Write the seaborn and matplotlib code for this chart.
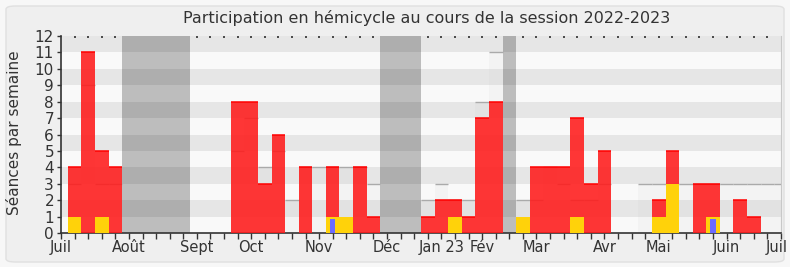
import numpy as np
import pandas as pd
import seaborn as sns
import matplotlib
matplotlib.use("Agg")
import matplotlib.pyplot as plt
import matplotlib.transforms as mtransforms
from matplotlib.patches import FancyBboxPatch

# ---------------- data ----------------
weeks = list(range(1, 54))  # weekly slots along the session axis
presence = [4, 11, 5, 4, 0, 0, 0, 0, 0, 0, 0, 0, 8, 8, 3, 6, 0, 4, 0, 4,
            0, 4, 1, 0, 0, 0, 1, 2, 2, 1, 7, 8, 0, 0, 4, 4, 4, 7, 3, 5,
            0, 0, 0, 2, 5, 0, 3, 3, 0, 2, 1, 0, 0]
interventions = [1, 0, 1, 0, 0, 0, 0, 0, 0, 0, 0, 0, 0, 0, 0, 0, 0, 0, 0, 1,
                 1, 0, 0, 0, 0, 0, 0, 0, 1, 0, 0, 0, 0, 1, 0, 0, 0, 1, 0, 0,
                 0, 0, 0, 1, 3, 0, 0, 1, 0, 0, 0, 0, 0]
questions = [0, 0, 0, 0, 0, 0, 0, 0, 0, 0, 0, 0, 0, 0, 0, 0, 0, 0, 0, 0.85,
             0, 0, 0, 0, 0, 0, 0, 0, 0, 0, 0, 0, 0, 0, 0, 0, 0, 0, 0, 0,
             0, 0, 0, 0, 0, 0, 0, 0.85, 0, 0, 0, 0, 0]
median = [3, 9, 3, 3, 0, 0, 0, 0, 0, 0, 0, 0, 5, 7, 4, 5, 2, 4, 4, 4,
          4, 4, 3, 0, 0, 0, 2, 3, 2, 2, 8, 11, 0, 2, 2, 4, 3, 2, 2, 3,
          0, 0, 3, 3, 3, 3, 3, 3, 3, 3, 3, 3, 3]
vacation_weeks = [5, 6, 7, 8, 9, 24, 25, 26, 33]
month_labels = ["Juil", "Août", "Sept", "Oct", "Nov", "Déc", "Jan 23",
                "Fév", "Mar", "Avr", "Mai", "Juin", "Juil"]
month_pos = [0, 5, 10, 14, 19, 24, 28, 31, 35, 40, 44, 49, 53]
y_ticks = list(range(0, 13))

df = pd.DataFrame({"semaine": weeks, "presence": presence,
                   "interventions": interventions, "questions": questions,
                   "mediane": median})

# ---------------- figure ----------------
sns.set_style("white")
plt.rcParams["font.family"] = ["DejaVu Sans"]
TXT = "#333333"

fig = plt.figure(figsize=(7.9, 2.67), dpi=100)
fig.patch.set_facecolor("#f7f7f7")
fig.patches.append(FancyBboxPatch((6 / 790, 5 / 267), 778 / 790, 256 / 267,
                                  boxstyle="round,pad=0,rounding_size=0.012",
                                  transform=fig.transFigure, facecolor="#efefef",
                                  edgecolor="#e0e0e0", linewidth=1.0, zorder=-10))

ax = fig.add_axes([61 / 790, 1 - 233 / 267, 720 / 790, 197 / 267])
ax.set_zorder(1)
ax.set_facecolor("#f9f9f9")

# vacation bands
for w in vacation_weeks:
    ax.axvspan(w - 0.5, w + 0.5, color="#bdbdbd", lw=0, zorder=1)

# horizontal stripes
for k in range(1, 12, 2):
    ax.axhspan(k, k + 1, color="black", alpha=0.075, lw=0, zorder=1.5)

# median presence bars
sns.barplot(data=df, x="semaine", y="mediane", native_scale=True, orient="x",
            width=1, color="#c9c9c9", alpha=0.12, errorbar=None, ax=ax,
            zorder=2, linewidth=0, saturation=1)
dm = df[df["mediane"] > 0]
ax.hlines(dm["mediane"], dm["semaine"] - 0.5, dm["semaine"] + 0.5,
          color="#aaaaaa", lw=1.0, zorder=3)

# presence bars
sns.barplot(data=df, x="semaine", y="presence", native_scale=True, orient="x",
            width=1, color="#ff1b1b", alpha=0.88, errorbar=None, ax=ax,
            zorder=4, linewidth=0, saturation=1)
dp = df[df["presence"] > 0]
ax.hlines(dp["presence"], dp["semaine"] - 0.5, dp["semaine"] + 0.5,
          color="#ff0000", lw=1.1, zorder=5)

# interventions
sns.barplot(data=df, x="semaine", y="interventions", native_scale=True, orient="x",
            width=1, color="#ffd20a", errorbar=None, ax=ax, zorder=6,
            linewidth=0, saturation=1)

# questions
sns.barplot(data=df, x="semaine", y="questions", native_scale=True, orient="x",
            width=0.4, color="#6b6bff", errorbar=None, ax=ax, zorder=7,
            linewidth=0, saturation=1)

# ---------------- axes ----------------
ax.set_xlim(0, 53)
ax.set_ylim(0, 12)
ax.set_xlabel("")
ax.set_ylabel("")
ax.set_xticks(month_pos)
ax.set_xticklabels(month_labels, fontsize=10.5, color=TXT)
ax.set_xticks(range(1, 53), minor=True)
ax.set_yticks(y_ticks)
ax.set_yticklabels([str(v) for v in y_ticks], fontsize=11, color=TXT)
ax.tick_params(axis="x", which="both", direction="out", length=4, width=1,
               color="#333333", pad=1, bottom=True, top=False)
ax.tick_params(axis="y", which="major", direction="out", length=3, width=1,
               color="#333333", pad=2, left=True)

# keep the final "Juil" inside the picture
last = ax.get_xticklabels()[-1]
last.set_transform(last.get_transform() +
                   mtransforms.ScaledTranslation(-4 / 100, 0, fig.dpi_scale_trans))

# top dotted ticks
ax_top = ax.secondary_xaxis("top")
ax_top.set_xticks(range(1, 53))
ax_top.set_xticklabels([])
ax_top.tick_params(direction="in", length=1.5, width=1.2, color="#333333")
ax_top.spines["top"].set_visible(False)

ax.spines["top"].set_visible(False)
ax.spines["right"].set_color("#c8c8c8")
ax.spines["left"].set_color("#333333")
ax.spines["bottom"].set_color("#333333")
ax.spines["left"].set_linewidth(1.2)
ax.spines["bottom"].set_linewidth(1.2)

fig.text(427 / 790, 1 - 18 / 267, "Participation en hémicycle au cours de la session 2022-2023",
         ha="center", va="center", fontsize=11.5, color=TXT)
fig.text(14 / 790, 1 - 133 / 267, "Séances par semaine", rotation=90,
         ha="center", va="center", fontsize=11, color=TXT)

fig.savefig("out.png", dpi=100, facecolor=fig.get_facecolor())
